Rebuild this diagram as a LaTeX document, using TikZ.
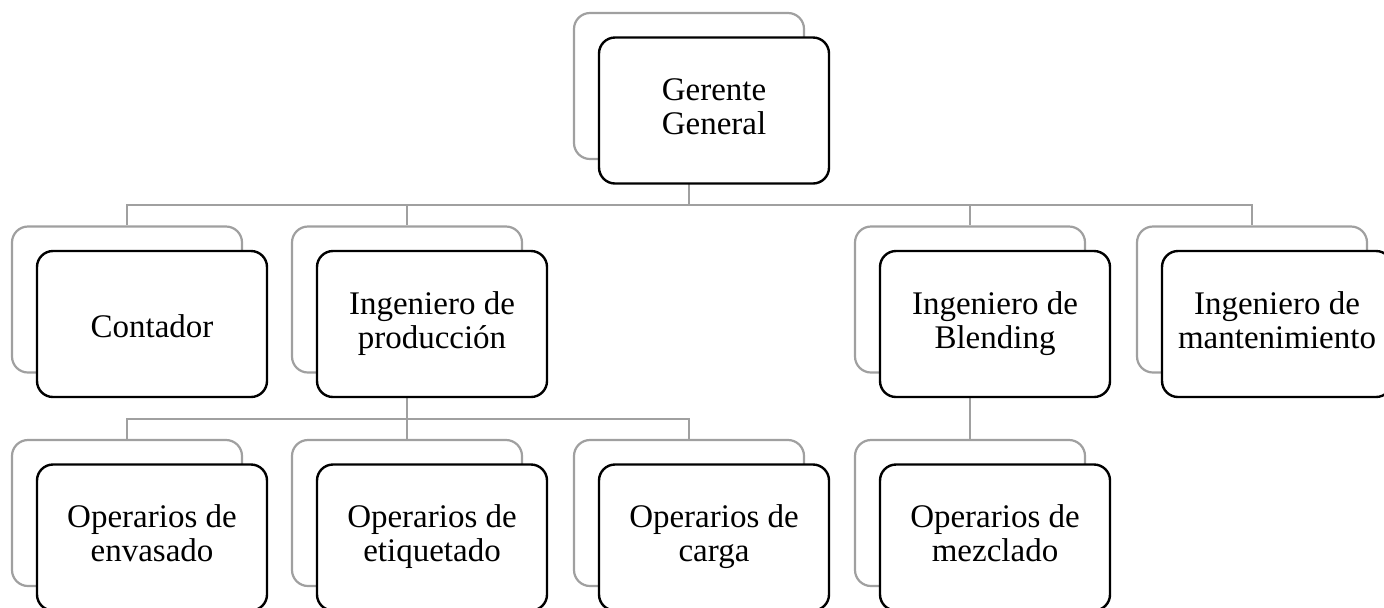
\documentclass[tikz,border=0pt]{standalone}
\usepackage{fontspec}
\setmainfont{Liberation Serif}
\usepackage{tikz}
\usetikzlibrary{backgrounds}
\definecolor{linegray}{RGB}{160,160,160}

\begin{document}
\begin{tikzpicture}[x=0.5pt,y=-0.5pt]
\tikzset{
    backbox/.style={
        draw=linegray, line width=1.1pt, fill=white, rounded corners=8pt,
        minimum width=115pt, minimum height=73pt, inner sep=0pt
    },
    frontbox/.style={
        draw=black, line width=1.2pt, fill=white, rounded corners=8pt,
        minimum width=115pt, minimum height=73pt, inner sep=2pt,
        align=center, font=\fontsize{16.5pt}{17pt}\selectfont,
        execute at begin node=\rule{0pt}{17.2pt},
        execute at end node=\rule[-4pt]{0pt}{4pt}
    },
    conn/.style={draw=linegray, line width=1pt},
}
\useasboundingbox (0,0) rectangle (1384,607);

  % gerente
  \node[backbox] (gg-b) at (689,86) {};
  \node[frontbox] (gg) at ([shift={(25,24.5)}]gg-b) {Gerente\\General};

  % second level
  \node[backbox] (cont-b) at (127,299.5) {};
  \node[frontbox] (cont) at ([shift={(25,24.5)}]cont-b) {Contador};
  \node[backbox] (prod-b) at (407,299.5) {};
  \node[frontbox] (prod) at ([shift={(25,24.5)}]prod-b) {Ingeniero de\\producción};
  \node[backbox] (blend-b) at (970,299.5) {};
  \node[frontbox] (blend) at ([shift={(25,24.5)}]blend-b) {Ingeniero de\\Blending};
  \node[backbox] (mant-b) at (1252,299.5) {};
  \node[frontbox] (mant) at ([shift={(25,24.5)}]mant-b) {Ingeniero de\\mantenimiento};

  % operarios
  \node[backbox] (env-b) at (127,513) {};
  \node[frontbox] (env) at ([shift={(25,24.5)}]env-b) {Operarios de\\envasado};
  \node[backbox] (etiq-b) at (407,513) {};
  \node[frontbox] (etiq) at ([shift={(25,24.5)}]etiq-b) {Operarios de\\etiquetado};
  \node[backbox] (carga-b) at (689,513) {};
  \node[frontbox] (carga) at ([shift={(25,24.5)}]carga-b) {Operarios de\\carga};
  \node[backbox] (mezc-b) at (970,513) {};
  \node[frontbox] (mezc) at ([shift={(25,24.5)}]mezc-b) {Operarios de\\mezclado};

  \coordinate (bus1) at (0,205);
  \coordinate (bus2) at (0,419);

  \begin{scope}[on background layer]
    \foreach \c in {cont-b,prod-b,blend-b,mant-b}
      \draw[conn] (gg-b.south) |- (bus1 -| \c.north) -- (\c.north);
    \foreach \c in {env-b,etiq-b,carga-b}
      \draw[conn] (prod-b.south) |- (bus2 -| \c.north) -- (\c.north);
    \draw[conn] (blend-b.south) -- (mezc-b.north);
  \end{scope}

\end{tikzpicture}
\end{document}
